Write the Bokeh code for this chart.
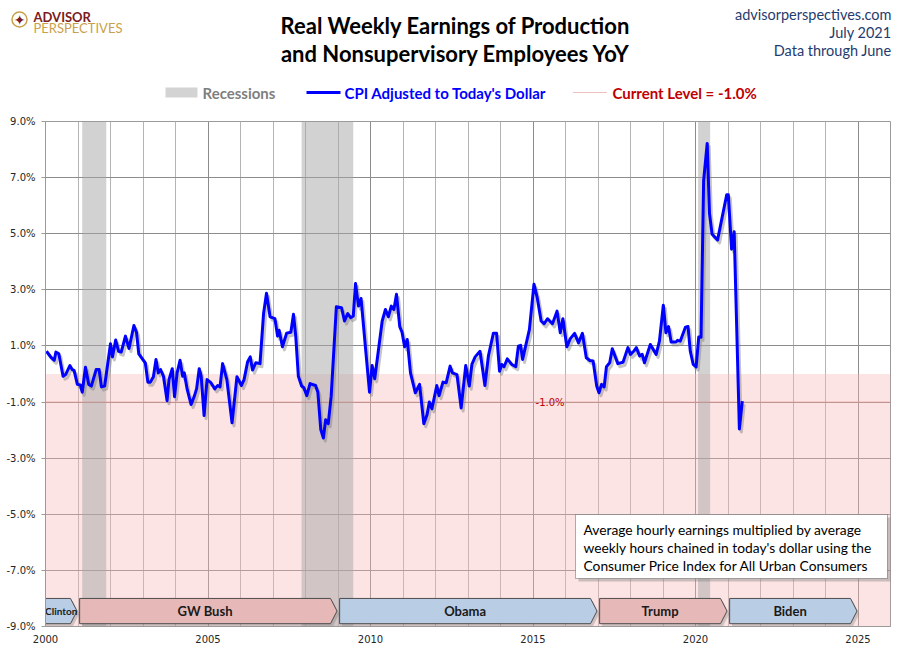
from bokeh.plotting import figure
from bokeh.layouts import column
from bokeh.models import (ColumnDataSource, FixedTicker, PrintfTickFormatter,
                          BoxAnnotation, Label, Range1d)
from bokeh.core.properties import value
from bokeh.embed import file_html
from bokeh.resources import INLINE

# YoY % change (decimal year, value)
dates = [
    2000.03, 2000.18, 2000.27, 2000.32, 2000.41, 2000.54, 2000.62, 2000.75, 2000.82, 2000.88,
    2000.98, 2001.07, 2001.13, 2001.23, 2001.33, 2001.41, 2001.56, 2001.65, 2001.72, 2001.82,
    2002.00, 2002.06, 2002.16, 2002.25, 2002.33, 2002.46, 2002.57, 2002.72, 2002.80, 2002.87,
    2003.07, 2003.15, 2003.23, 2003.32, 2003.40, 2003.47, 2003.54, 2003.63, 2003.74, 2003.80,
    2003.90, 2003.97, 2004.05, 2004.14, 2004.22, 2004.27, 2004.36, 2004.48, 2004.58, 2004.65,
    2004.73, 2004.79, 2004.88, 2004.97, 2005.09, 2005.21, 2005.30, 2005.37, 2005.45, 2005.58,
    2005.74, 2005.89, 2006.03, 2006.11, 2006.22, 2006.30, 2006.37, 2006.47, 2006.60, 2006.71,
    2006.80, 2006.91, 2007.06, 2007.14, 2007.19, 2007.29, 2007.42, 2007.55, 2007.63, 2007.70,
    2007.78, 2007.88, 2007.95, 2008.04, 2008.14, 2008.31, 2008.38, 2008.47, 2008.55, 2008.62,
    2008.70, 2008.79, 2008.95, 2009.11, 2009.20, 2009.30, 2009.39, 2009.47, 2009.54, 2009.63,
    2009.71, 2009.85, 2009.97, 2010.05, 2010.13, 2010.36, 2010.46, 2010.55, 2010.64, 2010.72,
    2010.80, 2010.90, 2010.97, 2011.05, 2011.13, 2011.23, 2011.38, 2011.51, 2011.64, 2011.74,
    2011.81, 2011.89, 2012.04, 2012.11, 2012.23, 2012.33, 2012.45, 2012.52, 2012.66, 2012.79,
    2012.93, 2013.04, 2013.12, 2013.22, 2013.37, 2013.52, 2013.63, 2013.78, 2013.88, 2013.97,
    2014.04, 2014.11, 2014.21, 2014.35, 2014.47, 2014.55, 2014.62, 2014.68, 2014.89, 2015.03,
    2015.13, 2015.25, 2015.34, 2015.45, 2015.60, 2015.74, 2015.84, 2015.92, 2016.04, 2016.15,
    2016.28, 2016.40, 2016.52, 2016.64, 2016.75, 2016.85, 2016.96, 2017.03, 2017.11, 2017.19,
    2017.26, 2017.36, 2017.44, 2017.61, 2017.77, 2017.92, 2018.00, 2018.10, 2018.18, 2018.28,
    2018.36, 2018.43, 2018.61, 2018.79, 2018.89, 2019.01, 2019.09, 2019.17, 2019.25, 2019.40,
    2019.45, 2019.53, 2019.69, 2019.77, 2019.84, 2019.93, 2020.02, 2020.10, 2020.17, 2020.25,
    2020.36, 2020.43, 2020.51, 2020.68, 2020.96, 2021.01, 2021.11, 2021.19, 2021.35, 2021.44,
]
yoy = [
    0.81, 0.58, 0.49, 0.78, 0.72, -0.08, -0.02, 0.30, 0.16, 0.13,
    -0.37, -0.39, -0.65, 0.24, -0.37, -0.43, 0.16, 0.16, -0.46, -0.43,
    1.08, 0.61, 1.21, 0.81, 0.78, 1.35, 0.91, 1.73, 1.49, 0.72,
    0.40, -0.29, -0.29, -0.10, 0.52, 0.04, 0.16, -0.08, -0.95, -0.20,
    0.19, -0.81, 0.04, 0.49, -0.08, 0.04, -0.55, -1.09, -0.79, -0.52,
    0.19, -0.08, -1.48, -0.20, -0.31, -0.53, -0.41, -0.46, 0.37, -0.20,
    -1.74, -0.10, -0.41, -0.20, 0.44, 0.61, 0.14, 0.40, 0.37, 2.16,
    2.88, 2.04, 1.97, 1.35, 1.56, 0.97, 1.45, 1.49, 2.13, 1.35,
    -0.08, -0.43, -0.49, -0.77, -0.34, -0.41, -0.65, -1.98, -2.28, -1.63,
    -1.77, -0.79, 2.40, 2.36, 1.89, 2.15, 2.01, 2.06, 3.23, 2.42,
    2.69, 0.88, -0.65, 0.30, -0.17, 1.89, 2.30, 2.04, 2.42, 2.30,
    2.84, 1.69, 1.49, 0.97, 1.23, 0.04, -0.67, -0.37, -1.77, -1.45,
    -1.00, -1.24, -0.41, -0.77, -0.29, -0.31, 0.28, 0.04, -0.02, -1.21,
    0.30, -0.43, 0.34, 0.61, 0.81, -0.41, 0.66, 1.45, 1.45, 0.10,
    0.34, 0.26, 0.54, 0.34, 0.26, 0.99, 1.02, 0.52, 1.59, 3.20,
    2.72, 1.89, 1.79, 1.97, 1.79, 2.24, 1.47, 1.97, 0.97, 1.26,
    1.45, 1.11, 1.45, 0.58, 0.48, 0.46, -0.43, -0.67, -0.37, -0.46,
    0.26, 0.40, 0.90, 0.37, 0.42, 0.94, 0.70, 0.81, 0.94, 0.64,
    0.70, 0.40, 1.05, 0.70, 1.17, 2.45, 1.47, 1.69, 1.14, 1.14,
    1.20, 1.17, 1.67, 1.69, 0.81, 0.34, 0.25, 1.32, 1.31, 6.89,
    8.22, 5.73, 4.98, 4.78, 6.39, 6.39, 4.45, 5.07, -1.96, -0.97,
]

current_level = -1.0

rec_start = [2001.13, 2007.88, 2020.08]
rec_end = [2001.87, 2009.47, 2020.45]

presidents = ["Clinton", "GW Bush", "Obama", "Trump", "Biden"]
term_start = [1993.05, 2001.05, 2009.05, 2017.05, 2021.05]
term_end = [2001.05, 2009.05, 2017.05, 2021.05, 2025.05]
party = ["D", "R", "D", "R", "D"]

y_ticks = [-9, -7, -5, -3, -1, 1, 3, 5, 7, 9]
x_ticks = [2000, 2005, 2010, 2015, 2020, 2025]
x_years = list(range(2000, 2027))

title_lines = ["Real Weekly Earnings of Production", "and Nonsupervisory Employees YoY"]
source_lines = ["advisorperspectives.com", "July 2021", "Data through June"]
note_lines = ["Average hourly earnings multiplied by average",
              "weekly hours chained in today's dollar using the",
              "Consumer Price Index for All Urban Consumers"]

X0, X1 = 2000, 2026
Y0, Y1 = -9, 9
W, HEAD_H, MAIN_H = 894, 113, 532

# ---------------- header (pixel coordinates, y grows downward) ----------------
h = figure(width=W, height=HEAD_H, output_backend="svg", toolbar_location=None,
           x_range=Range1d(0, W), y_range=Range1d(HEAD_H, 0),
           x_axis_location=None, y_axis_location=None, min_border=0,
           min_border_left=0, min_border_right=0, min_border_top=0, min_border_bottom=0)
h.grid.visible = False
h.outline_line_color = None


def htext(x, y, t, size, color="black", style="normal", align="left", font="Lato"):
    h.add_layout(Label(x=x, y=y, text=t, text_font=font, text_font_size=size,
                       text_color=color, text_font_style=style, text_align=align,
                       text_baseline="middle"))


# logo
h.scatter([19], [19], size=15, marker="circle", fill_color="white",
          line_color="#c9a14a", line_width=1.5)
htext(19, 19.5, "\u2726", "14px", color="#7b1a22", align="center", font="DejaVu Sans")
htext(33, 16.5, "ADVISOR", "13px", color="#7b1a22", style="bold")
htext(33, 27, "PERSPECTIVES", "13px", color="#c9a14a")

# title
htext(455, 25, title_lines[0], "22px", style="bold", align="center")
htext(455, 53, title_lines[1], "22px", style="bold", align="center")

# source / date
for i, t in enumerate(source_lines):
    htext(891, 14 + 18 * i, t, "14.5px", color="#1f3c6e", align="right")

# legend
h.quad(left=[165], right=[197], top=[87], bottom=[97], fill_color="#d3d3d3", line_color=None)
htext(202, 92, "Recessions", "15px", color="#7f7f7f", style="bold")
h.line([306, 340], [92, 92], line_color="#0000ff", line_width=3)
htext(344, 92, "CPI Adjusted to Today's Dollar", "15px", color="#0000ff", style="bold")
h.line([573, 607], [92, 92], line_color="#e08080", line_width=1, line_dash="1 1")
htext(612, 92, f"Current Level = {current_level:.1f}%", "15px", color="#c00000", style="bold")

# ---------------- main chart ----------------
p = figure(width=W, height=MAIN_H, output_backend="svg", toolbar_location=None,
           x_range=Range1d(X0, X1), y_range=Range1d(Y0, Y1),
           min_border_left=45, min_border_right=4, min_border_top=8,
           min_border_bottom=18, background_fill_color="white",
           border_fill_color="white")
p.outline_line_color = "#9a9a9a"

# keep the header's frame independent of the chart's frame
for f in (h, p):
    if "frame_align" in f.properties():
        f.frame_align = False

p.yaxis.ticker = FixedTicker(ticks=y_ticks)
p.yaxis.formatter = PrintfTickFormatter(format="%.1f%%")
p.xaxis.ticker = FixedTicker(ticks=x_ticks, minor_ticks=x_years)
for ax in (p.xaxis, p.yaxis):
    ax.major_label_text_font = "DejaVu Sans"
    ax.major_label_text_font_size = "10px"
    ax.major_label_text_color = "#262626"
    ax.axis_line_color = "#9a9a9a"
    ax.major_tick_line_color = "#9a9a9a"
    ax.minor_tick_line_color = None
p.yaxis.major_tick_out = 4
p.yaxis.major_tick_in = 0
p.yaxis.major_label_standoff = 6
p.xaxis.major_tick_out = 0
p.xaxis.major_tick_in = 0
p.xaxis.major_label_standoff = 4

p.xgrid.ticker = FixedTicker(ticks=x_ticks, minor_ticks=x_years)
p.xgrid.grid_line_color = "#8c8c8c"
p.xgrid.minor_grid_line_color = "#b4b4b4"
p.ygrid.ticker = FixedTicker(ticks=y_ticks)
p.ygrid.grid_line_color = "#8c8c8c"

# negative zone
p.add_layout(BoxAnnotation(top=0, fill_color="#f9b8b8", fill_alpha=0.38,
                           line_color=None, level="underlay"))

# recessions
rec_src = ColumnDataSource(dict(left=rec_start, right=rec_end,
                                bottom=[Y0] * len(rec_start), top=[Y1] * len(rec_start)))
p.quad(left="left", right="right", bottom="bottom", top="top", source=rec_src,
       fill_color="#a6a6a6", fill_alpha=0.5, line_color=None)

# current level line
p.line([X0, X1], [current_level, current_level], line_color="#e08080",
       line_width=1, line_dash="1 1")

# main series with a soft shadow
p.line([d + 0.06 for d in dates], [v - 0.11 for v in yoy], line_color="#7f7f7f",
       line_alpha=0.45, line_width=3, line_join="round")
p.line(dates, yoy, line_color="#0000ff", line_width=3, line_join="round")

p.add_layout(Label(x=2015.08, y=current_level, text=f"{current_level:.1f}%",
                   text_font="DejaVu Sans", text_font_size="10px", text_color="#c00000",
                   text_baseline="middle", text_align="left"))

# president bars
top, bot, mid = -8.0, -8.9, -8.45
xs, ys, sxs, sys_, cols, lx, lsize = [], [], [], [], [], [], []
for s, e, pt in zip(term_start, term_end, party):
    tip = e - 0.08
    body = tip - 0.2
    xs.append([s, body, tip, body, s])
    ys.append([top, top, mid, bot, bot])
    sxs.append([x + 0.07 for x in xs[-1]])
    sys_.append([y - 0.1 for y in ys[-1]])
    cols.append("#e6b9b8" if pt == "R" else "#b9cde5")
    vis = max(s, X0)
    if body - vis < 2:
        lx.append((vis + tip) / 2)
        lsize.append("10px")
    else:
        lx.append((vis + body) / 2)
        lsize.append("13px")
p.patches(sxs, sys_, fill_color="#7f7f7f", fill_alpha=0.35, line_color=None)
p.patches(xs, ys, fill_color=cols, line_color="#4d4d4d", line_width=1)
lab_src = ColumnDataSource(dict(x=lx, y=[mid] * len(lx), text=presidents, size=lsize))
p.text(x="x", y="y", text="text", source=lab_src, text_font=value("Lato"),
       text_font_style="bold", text_font_size="size", text_color="#1a1a1a",
       text_align="center", text_baseline="middle")

# note box (screen units relative to the frame's bottom-left)
p.add_layout(BoxAnnotation(left=533, right=845, bottom=45, top=109,
                           left_units="screen", right_units="screen",
                           bottom_units="screen", top_units="screen",
                           fill_color="#7f7f7f", fill_alpha=0.4, line_color=None))
p.add_layout(BoxAnnotation(left=530, right=842, bottom=48, top=112,
                           left_units="screen", right_units="screen",
                           bottom_units="screen", top_units="screen",
                           fill_color="white", fill_alpha=1, line_color="black",
                           line_width=1))
for i, t in enumerate(note_lines):
    p.add_layout(Label(x=538, y=97 - 18 * i, x_units="screen", y_units="screen", text=t,
                       text_font="Lato", text_font_size="13.8px", text_color="black",
                       text_baseline="middle"))

layout = column(h, p, spacing=0)
open("out.html", "w").write(file_html(layout, INLINE))
